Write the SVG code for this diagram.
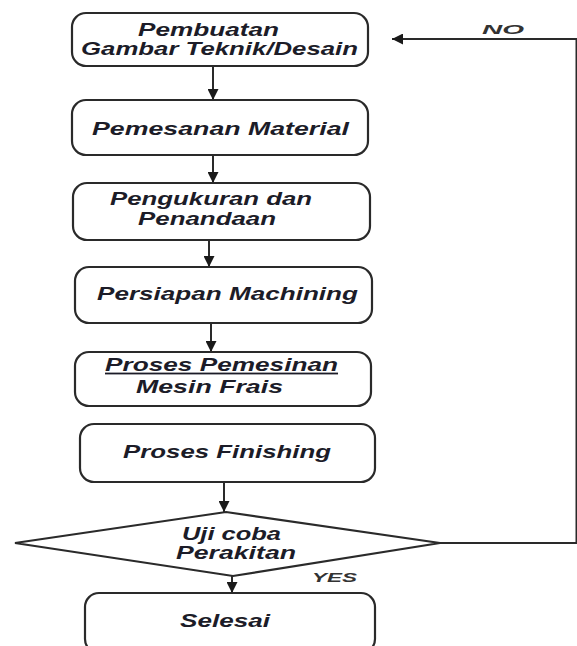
<svg xmlns="http://www.w3.org/2000/svg" width="577" height="646" viewBox="0 0 577 646">
<defs>
<style>
.box{fill:#fff;stroke:#2a2a2a;stroke-width:2.2}
.ln{fill:none;stroke:#2a2a2a;stroke-width:2}
.t{font-family:"Liberation Sans",Arial,sans-serif;font-weight:bold;font-style:italic;font-size:18px;fill:#1c1c28;text-anchor:middle}
.s{font-size:13px;fill:#333}
</style>
<marker id="ah" viewBox="0 0 10 10" refX="10" refY="5" markerWidth="6" markerHeight="5.5" orient="auto" markerUnits="strokeWidth">
<path d="M0,0 L10,5 L0,10 z" fill="#1a1a1a"/>
</marker>
</defs>
<rect width="577" height="646" fill="#fff"/>
<g id="connectors">
<line class="ln" x1="213" y1="66" x2="213" y2="100" marker-end="url(#ah)"/>
<line class="ln" x1="213" y1="155" x2="213" y2="183" marker-end="url(#ah)"/>
<line class="ln" x1="209" y1="240" x2="209" y2="267" marker-end="url(#ah)"/>
<line class="ln" x1="211" y1="323" x2="211" y2="352" marker-end="url(#ah)"/>
<line class="ln" x1="224" y1="482" x2="224" y2="512" marker-end="url(#ah)"/>
<line class="ln" x1="232" y1="576" x2="232" y2="593" marker-end="url(#ah)"/>
<polyline class="ln" points="440,543 576.5,543 576.5,39 392,39" marker-end="url(#ah)"/>
<text class="t s" transform="translate(503,34) scale(1.45,1)" textLength="29" lengthAdjust="spacingAndGlyphs">NO</text>
<text class="t s" transform="translate(334.5,582) scale(1.45,1)" textLength="31" lengthAdjust="spacingAndGlyphs">YES</text>
</g>
<g id="n1">
<rect class="box" x="72" y="13" width="296" height="53" rx="14"/>
<text class="t" transform="translate(208.5,36) scale(1.45,1)" textLength="97.2" lengthAdjust="spacingAndGlyphs">Pembuatan</text>
<text class="t" transform="translate(219.5,55) scale(1.45,1)" textLength="191" lengthAdjust="spacingAndGlyphs">Gambar Teknik/Desain</text>
</g>
<g id="n2">
<rect class="box" x="72" y="100" width="296" height="55" rx="14"/>
<text class="t" transform="translate(220.5,135) scale(1.45,1)" textLength="177.2" lengthAdjust="spacingAndGlyphs">Pemesanan Material</text>
</g>
<g id="n3">
<rect class="box" x="73" y="183" width="297" height="57" rx="14"/>
<text class="t" transform="translate(211,205) scale(1.45,1)" textLength="139.3" lengthAdjust="spacingAndGlyphs">Pengukuran dan</text>
<text class="t" transform="translate(207,225) scale(1.45,1)" textLength="95.2" lengthAdjust="spacingAndGlyphs">Penandaan</text>
</g>
<g id="n4">
<rect class="box" x="75" y="267" width="297" height="56" rx="14"/>
<text class="t" transform="translate(227.5,300) scale(1.45,1)" textLength="180" lengthAdjust="spacingAndGlyphs">Persiapan Machining</text>
</g>
<g id="n5">
<rect class="box" x="75" y="352" width="296" height="54" rx="14"/>
<text class="t" transform="translate(221.5,371) scale(1.45,1)" textLength="160.7" lengthAdjust="spacingAndGlyphs" text-decoration="underline">Proses Pemesinan</text>
<text class="t" transform="translate(209.5,393) scale(1.45,1)" textLength="101.4" lengthAdjust="spacingAndGlyphs">Mesin Frais</text>
</g>
<g id="n6">
<rect class="box" x="80" y="424" width="295" height="58" rx="14"/>
<text class="t" transform="translate(227,458) scale(1.45,1)" textLength="143.4" lengthAdjust="spacingAndGlyphs">Proses Finishing</text>
</g>
<g id="n7">
<polygon class="box" points="226,512 440,543 233,576 15,543"/>
<text class="t" transform="translate(231.5,540) scale(1.45,1)" textLength="68.3" lengthAdjust="spacingAndGlyphs">Uji coba</text>
<text class="t" transform="translate(236,559) scale(1.45,1)" textLength="82.8" lengthAdjust="spacingAndGlyphs">Perakitan</text>
</g>
<g id="n8">
<rect class="box" x="85" y="593" width="290" height="60" rx="14"/>
<text class="t" transform="translate(225,627) scale(1.45,1)" textLength="62.1" lengthAdjust="spacingAndGlyphs">Selesai</text>
</g>
</svg>
